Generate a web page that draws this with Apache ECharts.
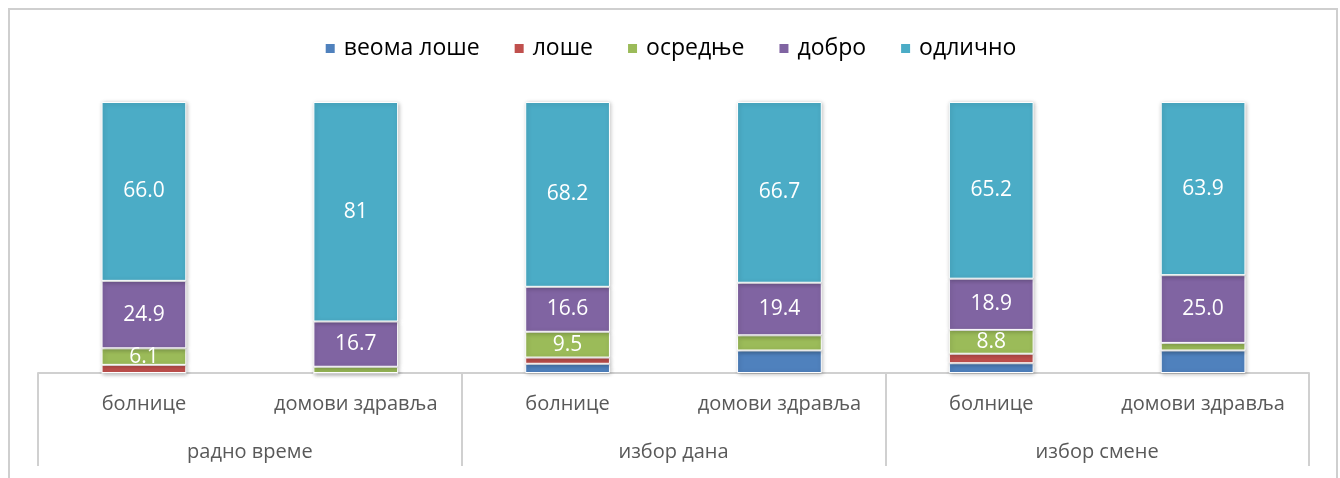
<!DOCTYPE html>
<html>
<head>
<meta charset="utf-8">
<script src="https://cdn.jsdelivr.net/npm/echarts@6/dist/echarts.min.js"></script>
<style>
  html, body { margin: 0; padding: 0; background: #fff; }
  #chart { width: 1340px; height: 478px; }
</style>
</head>
<body>
<div id="chart"></div>
<script>
  // категорије (два нивоа)
  var subCats = ['болнице', 'домови здравља', 'болнице', 'домови здравља', 'болнице', 'домови здравља'];
  var groupCats = ['радно време', 'избор дана', 'избор смене'];

  var seriesNames = ['веома лоше', 'лоше', 'осредње', 'добро', 'одлично'];
  var colors = ['#4f81bd', '#c0504d', '#9bbb59', '#8064a2', '#4bacc6'];

  // вредности у процентима
  var veomaLose = [0, 0, 3.4, 8.3, 3.6, 8.3];
  var lose = [3.0, 0, 2.3, 0, 3.5, 0];
  var osrednje = [6.1, 2.3, 9.5, 5.6, 8.8, 2.8];
  var dobro = [24.9, 16.7, 16.6, 19.4, 18.9, 25.0];
  var odlicno = [66.0, 81, 68.2, 66.7, 65.2, 63.9];

  // натписи на стубовима ('' = без натписа)
  var lblVeomaLose = ['', '', '', '', '', ''];
  var lblLose = ['', '', '', '', '', ''];
  var lblOsrednje = ['6.1', '', '9.5', '', '8.8', ''];
  var lblDobro = ['24.9', '16.7', '16.6', '19.4', '18.9', '25.0'];
  var lblOdlicno = ['66.0', '81', '68.2', '66.7', '65.2', '63.9'];

  var values = [veomaLose, lose, osrednje, dobro, odlicno];
  var labels = [lblVeomaLose, lblLose, lblOsrednje, lblDobro, lblOdlicno];

  var font = 'Open Sans';

  var series = seriesNames.map(function (name, i) {
    return {
      name: name,
      type: 'bar',
      stack: 'total',
      barWidth: '40%',
      itemStyle: {
        color: colors[i],
        borderColor: '#fff',
        borderWidth: 1,
        shadowColor: 'rgba(0,0,0,0.25)',
        shadowBlur: 4,
        shadowOffsetX: 1,
        shadowOffsetY: 1
      },
      data: values[i].map(function (v, j) {
        var txt = labels[i][j];
        return {
          value: v,
          label: {
            show: txt !== '',
            formatter: txt,
            position: 'inside',
            color: '#fff',
            fontFamily: font,
            fontSize: 21
          }
        };
      })
    };
  });

  var myChart = echarts.init(document.getElementById('chart'));
  myChart.setOption({
    animation: false,
    color: colors,
    graphic: [{
      type: 'rect',
      shape: { x: 9, y: 9, width: 1328, height: 500 },
      style: { fill: 'none', stroke: '#cfcfcf', lineWidth: 2 },
      silent: true
    }],
    legend: {
      top: 32,
      left: 'center',
      itemWidth: 11,
      itemHeight: 11,
      itemGap: 33,
      icon: 'rect',
      textStyle: { fontFamily: font, fontSize: 23, color: '#000', padding: [0, 0, 0, 3] },
      data: seriesNames
    },
    grid: {
      left: 38,
      right: 31,
      top: 102,
      bottom: 105
    },
    xAxis: [{
      type: 'category',
      data: subCats,
      position: 'bottom',
      axisLine: { lineStyle: { color: '#d0d0d0', width: 2 } },
      axisTick: { show: false },
      axisLabel: { color: '#595959', fontFamily: font, fontSize: 20, margin: 21, interval: 0 }
    }, {
      type: 'category',
      data: groupCats,
      position: 'bottom',
      axisLine: { show: false },
      axisTick: { show: true, length: 93, lineStyle: { color: '#d0d0d0', width: 2 } },
      axisLabel: { color: '#595959', fontFamily: font, fontSize: 20, margin: 69, interval: 0 }
    }],
    yAxis: {
      type: 'value',
      min: 0,
      max: 100,
      show: false
    },
    series: series
  });
</script>
</body>
</html>
